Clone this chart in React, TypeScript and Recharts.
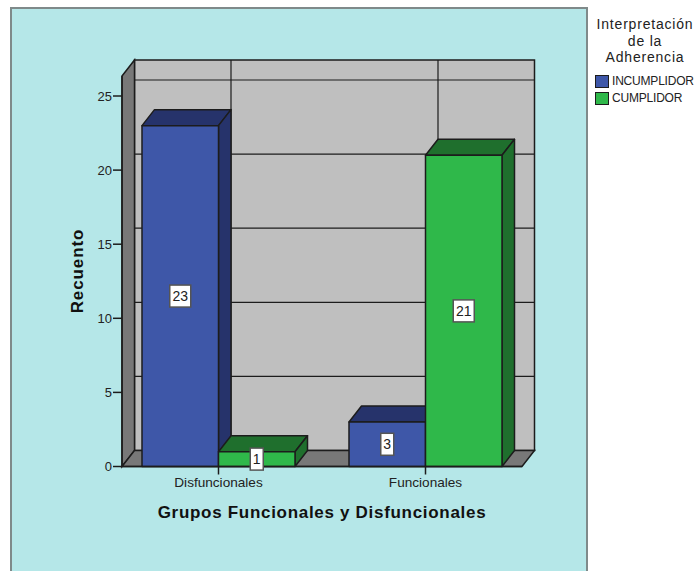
import React from 'react';
import { BarChart, Bar, XAxis, YAxis, CartesianGrid, LabelList, Legend } from 'recharts';

const categories = ['Disfuncionales', 'Funcionales'];
const incumplidor = [23, 3];
const cumplidor = [1, 21];
const yTicks = [0, 5, 10, 15, 20, 25];
const legendTitle = ['Interpretación', 'de la', 'Adherencia'];
const data = categories.map((c, i) => ({ c, incumplidor: incumplidor[i], cumplidor: cumplidor[i] }));

const DX = 12.5;
const DY = -16;
const L = 122, R = 522, T = 76, B = 466.5;
const FONT = '"Liberation Sans", Arial, sans-serif';
const LINE = '#1c1c1c';

const Walls = () => (
  <svg width={696} height={571} style={{ position: 'absolute', left: 0, top: 0 }}>
    <rect x={11} y={8} width={576} height={580} fill="#b5e7e8" stroke="#7f8a8a" strokeWidth={2} />
    <rect x={L + DX} y={T + DY} width={R - L} height={B - T} fill="#bfbfbf" stroke={LINE} strokeWidth={1.5} />
    <polygon points={`${L},${T} ${L + DX},${T + DY} ${L + DX},${B + DY} ${L},${B}`} fill="#787878" stroke={LINE} strokeWidth={1.5} />
    <polygon points={`${L},${B} ${L + DX},${B + DY} ${R + DX},${B + DY} ${R},${B}`} fill="#787878" stroke={LINE} strokeWidth={1.5} />
  </svg>
);

const Bar3D = (props: any) => {
  const { x, y, width, height, fill, side } = props;
  const x2 = x + width, y2 = y + height;
  return (
    <g stroke={LINE} strokeWidth={1.5} strokeLinejoin="round">
      <polygon points={`${x},${y} ${x + DX},${y + DY} ${x2 + DX},${y + DY} ${x2},${y}`} fill={side} />
      <polygon points={`${x2},${y} ${x2 + DX},${y + DY} ${x2 + DX},${y2 + DY} ${x2},${y2}`} fill={side} />
      <rect x={x} y={y} width={width} height={height} fill={fill} />
    </g>
  );
};

const ValueBox = (props: any) => {
  const { x, y, width, height, value } = props;
  const cx = x + width / 2, cy = y + height / 2;
  const w = String(value).length > 1 ? 21 : 13;
  const h = 22;
  return (
    <g>
      <rect x={cx - w / 2} y={cy - h / 2} width={w} height={h} fill="#ffffff" stroke="#555555" strokeWidth={1.5} />
      <text x={cx} y={cy + 5} textAnchor="middle" fontFamily={FONT} fontSize={14} fill="#222222">{value}</text>
    </g>
  );
};

const LegendBox = ({ payload }: any) => {
  const items = [...(payload || [])].sort((a: any, b: any) => b.value.localeCompare(a.value));
  return (
    <div style={{ width: 108, fontFamily: FONT, color: '#222' }}>
      <div style={{ textAlign: 'center', fontSize: 14, lineHeight: '16.5px', letterSpacing: 0.8 }}>
        {legendTitle.map((t) => <div key={t}>{t}</div>)}
      </div>
      <div style={{ marginTop: 7, paddingLeft: 4 }}>
        {items.map((p: any) => (
          <div key={p.value} style={{ display: 'flex', alignItems: 'center', height: 17, fontSize: 12, whiteSpace: 'nowrap' }}>
            <span style={{ width: 12, height: 11, background: p.color, border: '1.5px solid #1c1c1c', marginRight: 3, boxSizing: 'content-box', flex: 'none' }} />
            <span style={{ letterSpacing: -0.2 }}>{p.value}</span>
          </div>
        ))}
      </div>
    </div>
  );
};

const YTitle = () => {
  const cx = 77, cy = 271;
  return (
    <text x={cx} y={cy} transform={`rotate(-90 ${cx} ${cy})`} textAnchor="middle" dominantBaseline="central"
      fontFamily={FONT} fontWeight={700} fontSize={17} letterSpacing={0.9} fill="#111">Recuento</text>
  );
};

export default function App() {
  return (
    <div style={{ position: 'absolute', left: 0, top: 0, width: 696, height: 571, overflow: 'hidden', background: '#fff' }}>
      <Walls />
      <div style={{ position: 'absolute', left: 0, top: 0 }}>
        <BarChart width={696} height={571} data={data} barGap={0} barSize={76.5}
          margin={{ top: T, right: 696 - R, bottom: 571 - B - 30, left: L - 45 }}>
          <CartesianGrid
            stroke={LINE}
            strokeWidth={1.2}
            horizontal={(p: any) => p.y1 > B - 1 || p.y1 < T + 1 ? <g key={p.key ?? p.y1} /> : <line key={p.key ?? p.y1} x1={L + DX} x2={R + DX} y1={p.y1 + DY} y2={p.y1 + DY} stroke={LINE} strokeWidth={1.2} />}
            vertical={(p: any) => <line key={p.key ?? p.x1} x1={p.x1 + DX} x2={p.x1 + DX} y1={T + DY} y2={B + DY} stroke={LINE} strokeWidth={1.2} />}
            syncWithTicks
          />
          <XAxis dataKey="c" height={30} padding={{ left: -7, right: -7 }} interval={0}
            tick={{ fontFamily: FONT, fontSize: 13.6, fill: '#222' }} tickSize={8} tickMargin={3}
            axisLine={{ stroke: LINE, strokeWidth: 1.5 }} tickLine={{ stroke: LINE, strokeWidth: 1.5 }}
            label={{ value: 'Grupos Funcionales y Disfuncionales', position: 'bottom', offset: 9, fontFamily: FONT, fontWeight: 700, fontSize: 17, fill: '#111', letterSpacing: 0.7 }} />
          <YAxis width={45} domain={[0, 26.35]} ticks={yTicks} interval={0}
            tick={{ fontFamily: FONT, fontSize: 13, fill: '#222' }} tickSize={9} tickMargin={1}
            axisLine={{ stroke: LINE, strokeWidth: 1.5 }} tickLine={{ stroke: LINE, strokeWidth: 1.5 }}
            label={<YTitle />} />
          <Legend layout="vertical" align="center" verticalAlign="middle" content={<LegendBox />}
            wrapperStyle={{ left: 591, top: 16, width: 108, right: 'auto', bottom: 'auto' }} />
          <Bar dataKey="incumplidor" name="INCUMPLIDOR" fill="#3e57a8" isAnimationActive={false}
            shape={(p: any) => <Bar3D {...p} side="#26336b" />}>
            <LabelList dataKey="incumplidor" content={<ValueBox />} />
          </Bar>
          <Bar dataKey="cumplidor" name="CUMPLIDOR" fill="#2fb84a" isAnimationActive={false}
            shape={(p: any) => <Bar3D {...p} side="#1f6f2d" />}>
            <LabelList dataKey="cumplidor" content={<ValueBox />} />
          </Bar>
        </BarChart>
      </div>
    </div>
  );
}
